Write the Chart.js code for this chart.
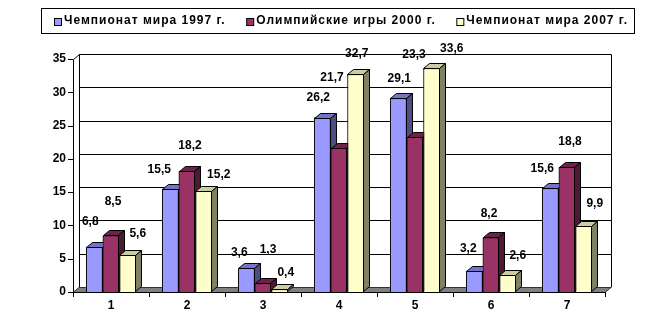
<!DOCTYPE html>
<html>
<head>
<meta charset="utf-8">
<script src="https://cdn.jsdelivr.net/npm/chart.js@4/dist/chart.umd.min.js"></script>
<style>
  body { margin: 0; background: #fff; }
  #wrap { width: 660px; height: 336px; }
</style>
</head>
<body>
<div id="wrap"><canvas id="chartResults" width="660" height="336"></canvas></div>
<script>
const categories = ['1', '2', '3', '4', '5', '6', '7']
const seriesNames = ['Чемпионат мира 1997 г.', 'Олимпийские игры 2000 г.', 'Чемпионат мира 2007 г.']
const champ1997 = [6.8, 15.5, 3.6, 26.2, 29.1, 3.2, 15.6]
const olymp2000 = [8.5, 18.2, 1.3, 21.7, 23.3, 8.2, 18.8]
const champ2007 = [5.6, 15.2, 0.4, 32.7, 33.6, 2.6, 9.9]
const yTicks = [0, 5, 10, 15, 20, 25, 30, 35]

// excel-like palette: front, top, side
const colors = [
  { front: '#9999FF', top: '#7373C8', side: '#4D4D80' },
  { front: '#993366', top: '#6E2249', side: '#4D1A33' },
  { front: '#FFFFCC', top: '#CCCCA0', side: '#808066' }
]

// where each value label sits, relative to the top centre of its bar
const labelShift = [
  [[-4, -25], [-11, -19], [-7, -15], [-4, -20], [1, -20], [-6, -22], [-8, -19]],
  [[2, -34], [3, -25], [5, -34], [-7, -70], [-1, -82], [-2, -24], [3, -25]],
  [[10, -21], [15, -16], [6, -17], [1, -21], [20, -20], [10, -19], [11, -22]]
]

const depth = { dx: 6, dy: 5 }
const boldFont = 'bold 12px "Liberation Sans", Arial, sans-serif'

const px = v => Math.round(v) + 0.5

function poly (ctx, pts, fill) {
  ctx.beginPath()
  ctx.moveTo(pts[0][0], pts[0][1])
  pts.slice(1).forEach(p => ctx.lineTo(p[0], p[1]))
  ctx.closePath()
  ctx.fillStyle = fill
  ctx.fill()
  ctx.stroke()
}

// back wall, side wall, floor and axis ticks
const wallsPlugin = {
  id: 'walls',
  beforeDatasetsDraw: (chart) => {
    const { ctx, chartArea, scales } = chart
    const { left, right, bottom } = chartArea
    const yScale = scales.y
    const { dx, dy } = depth

    ctx.save()
    ctx.strokeStyle = '#000'
    ctx.lineWidth = 1

    const yTop = yScale.getPixelForValue(35)
    const yZero = yScale.getPixelForValue(0)

    ctx.beginPath()
    yTicks.forEach(v => {
      if (v === 0) return
      const yy = px(yScale.getPixelForValue(v) - dy)
      ctx.moveTo(left + dx, yy)
      ctx.lineTo(right + dx + 0.5, yy)
    })
    // back wall edges
    ctx.moveTo(px(left + dx), px(yTop - dy))
    ctx.lineTo(px(left + dx), px(yZero - dy))
    ctx.moveTo(px(right + dx), px(yTop - dy))
    ctx.lineTo(px(right + dx), px(yZero - dy))
    // side wall: value axis and its top edge
    ctx.moveTo(px(left), px(yTop))
    ctx.lineTo(px(left), px(yZero))
    ctx.moveTo(px(left), px(yTop))
    ctx.lineTo(px(left + dx), px(yTop - dy))
    // value axis ticks
    yTicks.forEach(v => {
      const yy = px(yScale.getPixelForValue(v))
      ctx.moveTo(left - 5, yy)
      ctx.lineTo(left, yy)
    })
    ctx.stroke()

    // floor
    ctx.strokeStyle = '#333'
    poly(ctx, [
      [left, px(yZero)],
      [right, px(yZero)],
      [right + dx, px(yZero - dy)],
      [left + dx, px(yZero - dy)]
    ], '#808080')

    // category axis with ticks between groups
    ctx.strokeStyle = '#000'
    ctx.beginPath()
    ctx.moveTo(left, px(bottom))
    ctx.lineTo(right, px(bottom))
    const step = (right - left) / categories.length
    for (let i = 0; i <= categories.length; i++) {
      const xx = px(left + i * step)
      ctx.moveTo(xx, bottom)
      ctx.lineTo(xx, bottom + 5)
    }
    ctx.stroke()
    ctx.restore()
  }
}

// Chart.js paints the last series first; repaint left to right with
// top and side faces so each column hides the faces of its left neighbour
const columnFacesPlugin = {
  id: 'columnFaces',
  afterDatasetsDraw: (chart) => {
    const { ctx } = chart
    const { dx, dy } = depth

    ctx.save()
    ctx.lineWidth = 1
    chart.data.datasets.forEach((ds, d) => {
      const c = colors[d]
      chart.getDatasetMeta(d).data.forEach(bar => {
        bar.draw(ctx, chart.chartArea)
        const x0 = Math.round(bar.x - bar.width / 2) + 0.5
        const x1 = Math.round(bar.x + bar.width / 2) - 0.5
        const yt = Math.round(bar.y) + 0.5
        const yb = Math.round(bar.base) - 0.5
        ctx.strokeStyle = '#000'
        poly(ctx, [[x0, yt], [x1, yt], [x1 + dx, yt - dy], [x0 + dx, yt - dy]], c.top)
        poly(ctx, [[x1, yt], [x1 + dx, yt - dy], [x1 + dx, yb - dy], [x1, yb]], c.side)
      })
    })
    ctx.restore()
  }
}

const valueLabelsPlugin = {
  id: 'valueLabels',
  afterDatasetsDraw: (chart) => {
    const { ctx } = chart
    ctx.save()
    ctx.font = boldFont
    ctx.fillStyle = '#000'
    ctx.textAlign = 'center'
    ctx.textBaseline = 'middle'
    chart.data.datasets.forEach((ds, d) => {
      const meta = chart.getDatasetMeta(d)
      meta.data.forEach((bar, i) => {
        const [sx, sy] = labelShift[d][i]
        const text = ds.data[i].toFixed(1).replace('.', ',')
        ctx.fillText(text, bar.x + sx, bar.y + sy)
      })
    })
    ctx.restore()
  }
}

// framed legend in one row across the top
const boxLegendPlugin = {
  id: 'boxLegend',
  afterDraw: (chart) => {
    const { ctx } = chart
    const frame = { left: 41, top: 8, right: 634, bottom: 33 }
    const start = 54
    const end = 627
    const swatch = 7
    const gap = 2

    ctx.save()
    ctx.strokeStyle = '#000'
    ctx.lineWidth = 1
    ctx.strokeRect(frame.left + 0.5, frame.top + 0.5, frame.right - frame.left, frame.bottom - frame.top)

    ctx.font = boldFont
    ctx.letterSpacing = '1px'
    ctx.textBaseline = 'middle'
    ctx.textAlign = 'left'
    const widths = seriesNames.map(n => swatch + gap + ctx.measureText(n).width)
    const total = widths.reduce((a, b) => a + b, 0)
    const spacing = (end - start - total) / (seriesNames.length - 1)
    const midY = (frame.top + frame.bottom) / 2 + 0.5

    let x = start
    seriesNames.forEach((name, i) => {
      ctx.fillStyle = colors[i].front
      ctx.fillRect(x + 0.5, Math.round(midY - swatch / 2) + 0.5, swatch, swatch)
      ctx.strokeRect(x + 0.5, Math.round(midY - swatch / 2) + 0.5, swatch, swatch)
      ctx.fillStyle = '#000'
      ctx.fillText(name, x + swatch + gap + 1, midY)
      x += widths[i] + spacing
    })
    ctx.restore()
  }
}

new Chart(document.getElementById('chartResults'), {
  type: 'bar',

  data: {
    labels: categories,
    datasets: [champ1997, olymp2000, champ2007].map((values, i) => ({
      label: seriesNames[i],
      data: values,
      backgroundColor: colors[i].front,
      borderColor: '#000',
      borderWidth: 1,
      categoryPercentage: 0.66,
      barPercentage: 1
    }))
  },

  options: {
    responsive: false,
    animation: false,
    devicePixelRatio: 1,
    layout: {
      padding: { top: 59, right: 55, bottom: 0, left: 0 }
    },
    plugins: {
      legend: { display: false },
      tooltip: { enabled: false }
    },
    scales: {
      x: {
        grid: { display: false },
        border: { display: false },
        ticks: {
          color: '#000',
          padding: -2,
          font: { family: '"Liberation Sans", Arial, sans-serif', size: 12, weight: 'bold' }
        },
        afterFit: (scale) => { scale.height = 44 }
      },
      y: {
        min: 0,
        max: 35,
        grid: { display: false },
        border: { display: false },
        ticks: {
          stepSize: 5,
          color: '#000',
          padding: -1,
          font: { family: '"Liberation Sans", Arial, sans-serif', size: 12, weight: 'bold' }
        },
        afterFit: (scale) => { scale.width = 73 }
      }
    }
  },
  plugins: [wallsPlugin, columnFacesPlugin, valueLabelsPlugin, boxLegendPlugin]
})
</script>
</body>
</html>
